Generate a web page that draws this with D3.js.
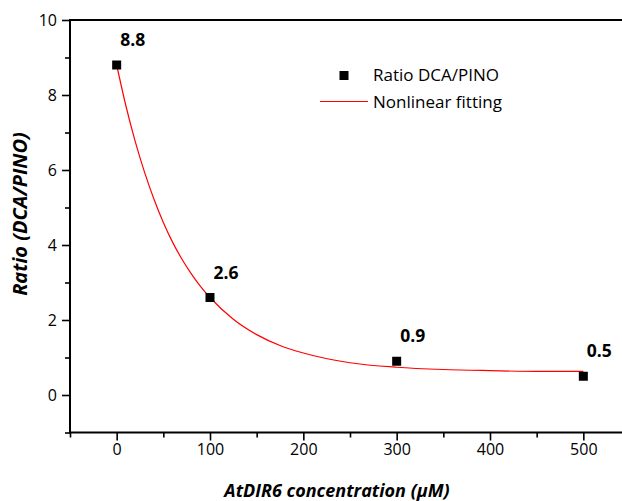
<!DOCTYPE html>
<html>
<head>
<meta charset="utf-8">
<script src="https://cdn.jsdelivr.net/npm/d3@7"></script>
<style>
  html, body { margin: 0; padding: 0; background: #fff; }
  svg { display: block; }
  text { font-family: "Open Sans", sans-serif; }
</style>
</head>
<body>
<svg id="chart" width="622" height="501"></svg>
<script>
// ---- data ----
const concentrations = [0, 100, 300, 500];
const ratios = [8.8, 2.6, 0.9, 0.5];
const pointLabels = ["8.8", "2.6", "0.9", "0.5"];

// nonlinear fitting curve
const fitX = [0, 10, 20, 30, 40, 50, 60, 70, 80, 90, 100, 125, 150, 175, 200, 250, 300, 350, 400, 450, 500];
const fitY = [8.80, 7.70, 6.75, 5.93, 5.22, 4.60, 4.07, 3.62, 3.23, 2.89, 2.60, 2.02, 1.61, 1.32, 1.12, 0.86, 0.74, 0.68, 0.65, 0.63, 0.63];

const xMajorTicks = [0, 100, 200, 300, 400, 500];
const xMinorTicks = [-50, 50, 150, 250, 350, 450, 550];
const yMajorTicks = [0, 2, 4, 6, 8, 10];
const yMinorTicks = [-1, 1, 3, 5, 7, 9];

const legendLabels = ["Ratio DCA/PINO", "Nonlinear fitting"];
const xTitle = "AtDIR6 concentration (μM)";
const yTitle = "Ratio (DCA/PINO)";

// ---- layout ----
const svg = d3.select("#chart");
const x = d3.scaleLinear().domain([-50, 550]).range([70, 630]);
const y = d3.scaleLinear().domain([-1, 10]).range([432.5, 20]);

const axisColor = "#000";
const tickFont = 16;

// axes (left + bottom) with major/minor ticks
const gx = svg.append("g").attr("transform", `translate(0,${y(-1)})`);
gx.call(d3.axisBottom(x).tickValues(xMajorTicks).tickSize(8).tickPadding(3).tickFormat(d3.format("d")));
gx.append("g").call(d3.axisBottom(x).tickValues(xMinorTicks).tickSize(5).tickFormat(""));
gx.selectAll(".domain").remove();
gx.selectAll("line").attr("stroke", axisColor).attr("stroke-width", 1.6);
gx.selectAll("text").attr("font-size", tickFont).attr("fill", "#000")
  .style("font-family", "'Open Sans', sans-serif");

const gy = svg.append("g").attr("transform", `translate(${x(-50)},0)`);
gy.call(d3.axisLeft(y).tickValues(yMajorTicks).tickSize(8).tickPadding(5).tickFormat(d3.format("d")));
gy.append("g").call(d3.axisLeft(y).tickValues(yMinorTicks).tickSize(5).tickFormat(""));
gy.selectAll(".domain").remove();
gy.selectAll("line").attr("stroke", axisColor).attr("stroke-width", 1.6);
gy.selectAll("text").attr("font-size", tickFont).attr("fill", "#000")
  .style("font-family", "'Open Sans', sans-serif");

// frame lines: left, bottom, top
svg.append("line").attr("x1", x(-50)).attr("x2", x(-50)).attr("y1", y(10)).attr("y2", y(-1))
  .attr("stroke", axisColor).attr("stroke-width", 2);
svg.append("line").attr("x1", x(-50) - 1).attr("x2", 622).attr("y1", y(-1)).attr("y2", y(-1))
  .attr("stroke", axisColor).attr("stroke-width", 2);
svg.append("line").attr("x1", x(-50) - 1).attr("x2", 622).attr("y1", y(10)).attr("y2", y(10))
  .attr("stroke", axisColor).attr("stroke-width", 2);

// fitting curve
const fitData = fitX.map((v, i) => [v, fitY[i]]);
svg.append("path")
  .datum(fitData)
  .attr("fill", "none")
  .attr("stroke", "#ff0000")
  .attr("stroke-width", 1.2)
  .attr("d", d3.line().x(d => x(d[0])).y(d => y(d[1])).curve(d3.curveMonotoneX));

// points
const ms = 9;
svg.append("g").selectAll("rect")
  .data(concentrations)
  .join("rect")
  .attr("x", (d) => x(d) - ms / 2)
  .attr("y", (d, i) => y(ratios[i]) - ms / 2)
  .attr("width", ms).attr("height", ms)
  .attr("fill", "#000");

// value labels
svg.append("g").selectAll("text")
  .data(concentrations)
  .join("text")
  .attr("x", d => x(d) + 16)
  .attr("y", (d, i) => y(ratios[i]) - 19)
  .attr("text-anchor", "middle")
  .attr("font-size", 17.5)
  .attr("font-weight", "bold")
  .text((d, i) => pointLabels[i]);

// legend
svg.append("rect").attr("x", 339.5).attr("y", 71).attr("width", ms).attr("height", ms).attr("fill", "#000");
svg.append("text").attr("x", 373).attr("y", 81).attr("font-size", 17).text(legendLabels[0]);
svg.append("line").attr("x1", 320).attr("x2", 368).attr("y1", 101.5).attr("y2", 101.5)
  .attr("stroke", "#ff0000").attr("stroke-width", 1.2);
svg.append("text").attr("x", 373).attr("y", 108).attr("font-size", 17).text(legendLabels[1]);

// axis titles
svg.append("text")
  .attr("x", 337).attr("y", 497)
  .attr("text-anchor", "middle")
  .attr("font-size", 18).attr("font-weight", "bold").attr("font-style", "italic")
  .text(xTitle);
svg.append("text")
  .attr("transform", `translate(27,214) rotate(-90)`)
  .attr("text-anchor", "middle")
  .attr("font-size", 20).attr("font-weight", "bold").attr("font-style", "italic")
  .text(yTitle);
</script>
</body>
</html>
